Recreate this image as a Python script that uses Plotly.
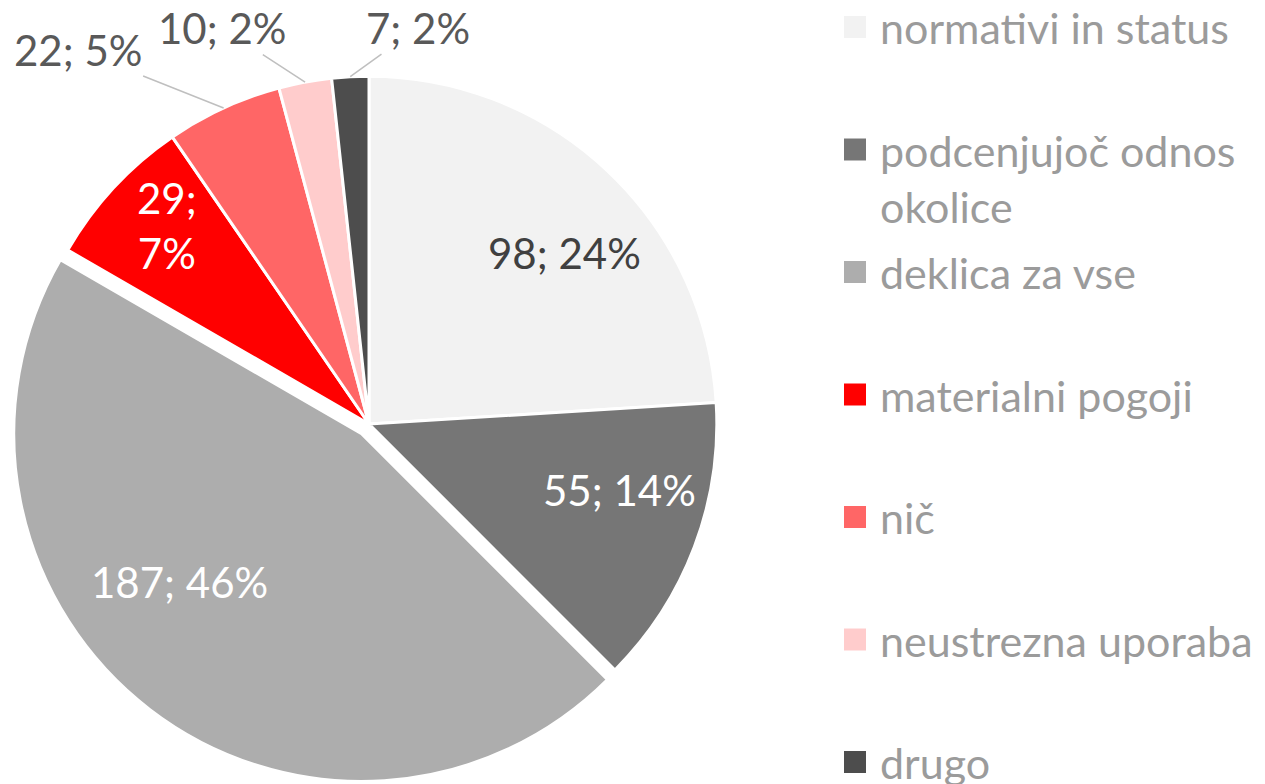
import math
import plotly.graph_objects as go

categories = ["normativi in status", "podcenjujoč odnos okolice", "deklica za vse",
              "materialni pogoji", "nič", "neustrezna uporaba", "drugo"]
legend_labels = ["normativi in status", "podcenjujoč odnos<br>okolice", "deklica za vse",
                 "materialni pogoji", "nič", "neustrezna uporaba", "drugo"]
values = [98, 55, 187, 29, 22, 10, 7]
pct_labels = ["24%", "14%", "46%", "7%", "5%", "2%", "2%"]
colors = ["#F2F2F2", "#767676", "#ADADAD", "#FF0000", "#FF6666", "#FFCCCC", "#4D4D4D"]
text_colors = ["#404040", "#FFFFFF", "#FFFFFF", "#FFFFFF", "#595959", "#595959", "#595959"]
pulls = [0, 0, 0.035, 0, 0, 0, 0]
label_seps = ["; ", "; ", "; ", ";<br>", "; ", "; ", "; "]
outside = [False, False, False, False, True, True, True]

# label placement style: pixel nudges from the slice's mid-angle anchor
# (inside labels: anchor at 0.72 r; outside labels: anchor on the rim, leader line to the text)
label_nudges = [(24, 11), (16, -23), (-30, -50), (-18, -28), (-146, -58), (-83, -54), (68, -49)]

W, H = 1265, 784
FONT = "Lato, Calibri, sans-serif"
FS = 42
DOM_X = [9 / W, 729 / W]
DOM_Y = [0, 720 / H]

fig = go.Figure(go.Pie(
    labels=categories, values=values,
    sort=False, direction="clockwise", rotation=0, pull=pulls,
    marker=dict(colors=colors, line=dict(color="white", width=3)),
    textinfo="none", showlegend=False, hoverinfo="label+value+percent",
    domain=dict(x=DOM_X, y=DOM_Y),
))

# pie geometry (same rule plotly uses for a pie in a domain)
box_w = (DOM_X[1] - DOM_X[0]) * W
box_h = (DOM_Y[1] - DOM_Y[0]) * H
r = min(box_w, box_h) / (2 + 2 * max(pulls))
cx = W * (DOM_X[0] + DOM_X[1]) / 2
cy = H * (1 - (DOM_Y[0] + DOM_Y[1]) / 2)
total = sum(values)
cum = 0
for i, v in enumerate(values):
    mid = (cum + v / 2) / total * 2 * math.pi
    cum += v
    ox = cx + pulls[i] * r * math.sin(mid)
    oy = cy - pulls[i] * r * math.cos(mid)
    text = f"{v}{label_seps[i]}{pct_labels[i]}"
    dx, dy = label_nudges[i]
    if outside[i]:
        px = ox + r * math.sin(mid)
        py = oy - r * math.cos(mid)
        fig.add_annotation(xref="paper", yref="paper", x=px / W, y=1 - py / H,
                           text=text, showarrow=True, arrowhead=0, arrowwidth=1.5,
                           arrowcolor="#BFBFBF", standoff=0, ax=dx, ay=dy,
                           font=dict(family=FONT, size=FS, color=text_colors[i]))
    else:
        px = ox + 0.72 * r * math.sin(mid) + dx
        py = oy - 0.72 * r * math.cos(mid) + dy
        fig.add_annotation(xref="paper", yref="paper", x=px / W, y=1 - py / H,
                           xanchor="center", yanchor="middle", text=text, showarrow=False,
                           font=dict(family=FONT, size=FS, color=text_colors[i]))

# legend (right side)
y0, step = 27, 122.5
for i, (lab, col) in enumerate(zip(legend_labels, colors)):
    yc = y0 + step * i
    fig.add_shape(type="rect", xref="paper", yref="paper",
                  x0=844 / W, x1=866 / W, y0=1 - (yc - 11) / H, y1=1 - (yc + 11) / H,
                  fillcolor=col, line=dict(width=0))
    fig.add_annotation(xref="paper", yref="paper", x=879 / W, y=1 - (yc - 0.65 * 43 + 2) / H,
                       xanchor="left", yanchor="top", text=lab, showarrow=False, align="left",
                       borderpad=0, font=dict(family=FONT, size=43, color="#9B9B9B"))

fig.update_layout(width=W, height=H,
                  margin=dict(l=0, r=0, t=0, b=0, autoexpand=False),
                  paper_bgcolor="white", plot_bgcolor="white")
fig.write_html("out.html")
